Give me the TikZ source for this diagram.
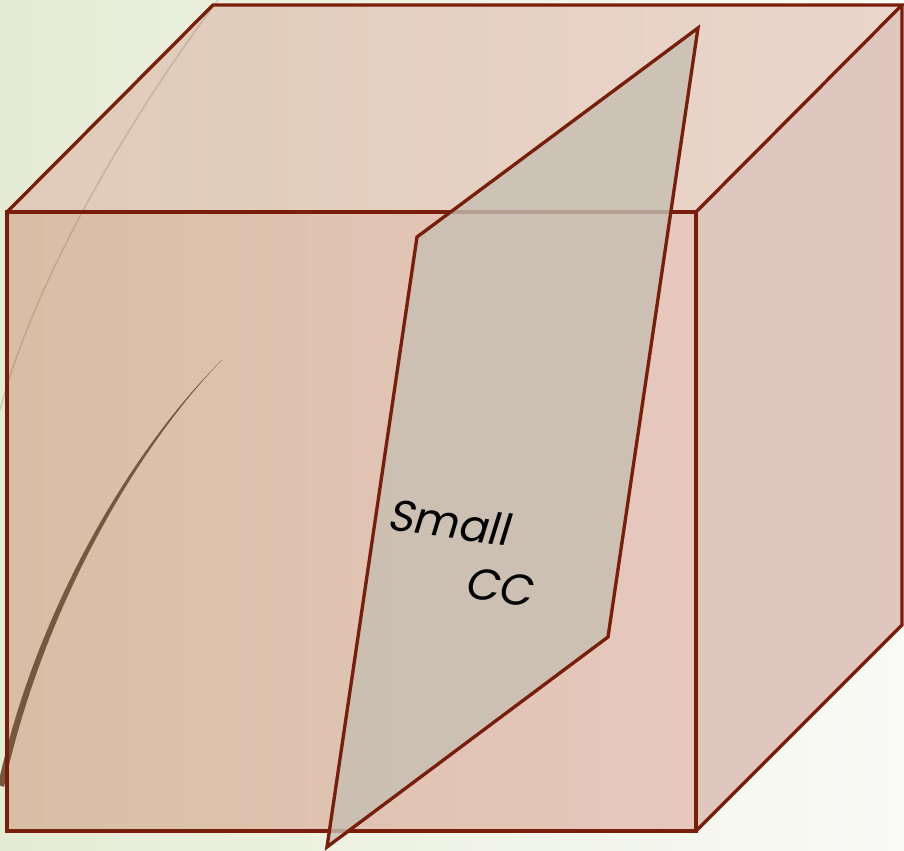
\documentclass[tikz,border=0pt]{standalone}
\usepackage{fontspec}
\newfontfamily\ccfont{Poppins}[FakeSlant=0.16]
\usetikzlibrary{calc}
\definecolor{edgebrown}{RGB}{122,30,12}
\definecolor{bgleft}{RGB}{228,236,212}
\definecolor{bgright}{RGB}{250,250,246}
\definecolor{frontl}{RGB}{216,190,165}
\definecolor{frontr}{RGB}{231,200,190}
\definecolor{topl}{RGB}{223,203,183}
\definecolor{topr}{RGB}{235,214,204}
\definecolor{sidec}{RGB}{223,199,191}
\definecolor{planec}{RGB}{198,191,178}
\definecolor{curvec}{RGB}{118,88,62}

\begin{document}
\begin{tikzpicture}[x=0.02cm,y=-0.02cm,
    edge/.style={draw=edgebrown, line width=1.9pt, line join=miter},
    label/.style={font=\ccfont\fontsize{25}{30}\selectfont, text=black, rotate=-8, inner sep=0pt}]
    \useasboundingbox (0,0) rectangle (904,851);
    % ---- background ----
    \shade[left color=bgleft, right color=bgright] (0,0) rectangle (904,851);
    % ---- cube corners ----
    \coordinate (fTL) at (7,212);
    \coordinate (fTR) at (696,212);
    \coordinate (fBR) at (696,831);
    \coordinate (fBL) at (7,831);
    \coordinate (bTL) at (213,5);
    \coordinate (bTR) at (902,5);
    \coordinate (bBR) at (902,625);
    % ---- faces ----
    \shade[left color=topl, right color=topr] (fTL) -- (bTL) -- (bTR) -- (fTR) -- cycle;
    \fill[sidec] (fTR) -- (bTR) -- (bBR) -- (fBR) -- cycle;
    \shade[left color=frontl, right color=frontr] (fTL) rectangle (fBR);
    % ---- background curves ----
    \draw[curvec, opacity=0.22, line width=0.9pt]
        (218,0) .. controls (150,90) and (40,260) .. (0,410);
    \fill[curvec]
        (222,360) .. controls (140,440) and (38,600) .. (-2,785)
        -- (4,787) .. controls (44,602) and (142,442) .. (222,360) -- cycle;
    % ---- cube edges ----
    \draw[edge] (fTL) -- (bTL) -- (bTR) -- (fTR);
    \draw[edge] (bTR) -- (bBR) -- (fBR);
    \draw[edge] (fTL) rectangle (fBR);
    % ---- plane ----
    \coordinate (pA) at (417,237);
    \coordinate (pB) at (698,28);
    \coordinate (pC) at (608,637);
    \coordinate (pD) at (327,847);
    \fill[planec, opacity=0.8] (pA) -- (pB) -- (pC) -- (pD) -- cycle;
    \draw[edge] (pA) -- (pB) -- (pC) -- (pD) -- cycle;
    % ---- label ----
    \node[label] (small) at (449,522) {Small};
    \node[label] (cc) at (499,587) {CC};
\end{tikzpicture}
\end{document}
